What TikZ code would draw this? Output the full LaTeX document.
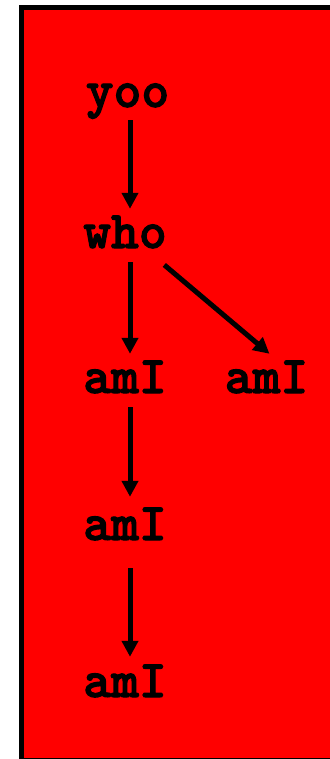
\documentclass[tikz,border=0pt]{standalone}
\usepackage{fontspec}
\newfontfamily\courb{lmmonolt10-bold.otf}[FakeBold=2]
\usetikzlibrary{arrows.meta}
\begin{document}
\begin{tikzpicture}[x=1pt,y=-1pt,
  lbl/.style={font=\courb\fontsize{53}{64}\selectfont, inner sep=0pt, text height=39pt, text depth=12pt, anchor=base},
  arr/.style={line width=5pt, -{Triangle[length=16pt,width=16pt]}}]
\useasboundingbox (0,0) rectangle (329,759);
\draw[line width=5pt, fill=red] (21,8) rectangle (340,760.5);
\node[lbl] (yoo) at (127.5,107) {yoo};
\node[lbl] (who) at (125,248) {who};
\node[lbl] (a1) at (125,393) {amI};
\node[lbl] (a2) at (266.5,393) {amI};
\node[lbl] (a3) at (125,540) {amI};
\node[lbl] (a4) at (125,697) {amI};
\draw[arr, shorten <=1pt] ([xshift=2.5pt]yoo.south) -- ([xshift=5pt]who.north);
\draw[arr, shorten <=2pt] ([xshift=5pt]who.south) -- ([xshift=5pt]a1.north);
\draw[arr, shorten <=3pt] (162,263) -- ([xshift=3pt]a2.north);
\draw[arr, shorten <=2pt, shorten >=4pt] ([xshift=5pt]a1.south) -- ([xshift=5pt]a3.north);
\draw[arr, shorten <=16pt, shorten >=1pt] ([xshift=5pt]a3.south) -- ([xshift=5pt]a4.north);
\end{tikzpicture}
\end{document}
